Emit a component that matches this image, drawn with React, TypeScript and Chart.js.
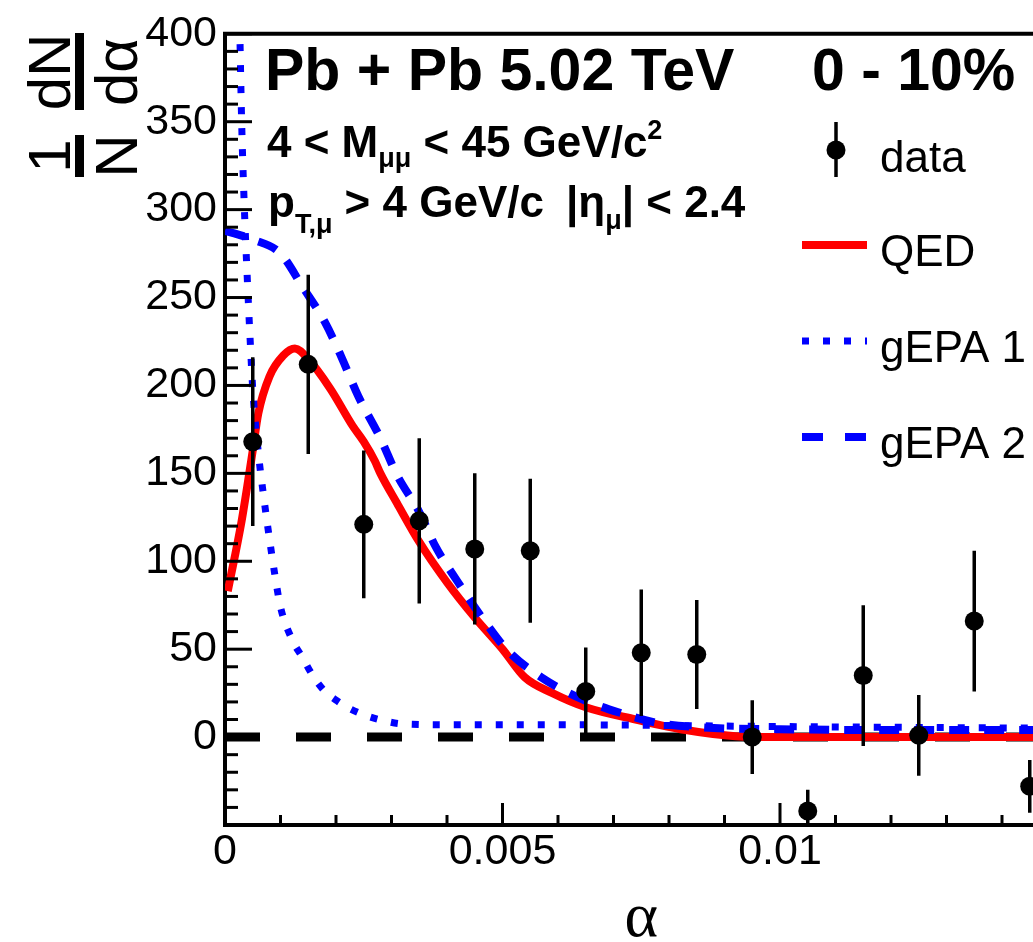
import React, { useEffect, useRef } from 'react';
import { Chart, registerables } from 'chart.js';

Chart.register(...registerables);

// ---------------- data ----------------
const X_MIN = 0;
const X_MAX = 0.015;
const Y_MIN = -50;
const Y_MAX = 400;

const dataX = [0.0005, 0.0015, 0.0025, 0.0035, 0.0045, 0.0055, 0.0065, 0.0075, 0.0085, 0.0095, 0.0105, 0.0115, 0.0125, 0.0135, 0.0145];
const dataY = [168, 212, 121, 123, 107, 106, 26, 48, 47, 0, -42, 35, 1, 66, -28];
const dataErr = [48, 51, 42, 47, 43, 41, 25, 36, 31, 21, 12, 40, 23, 40, 15];

const qedX = [0.00005, 0.0003, 0.0005, 0.0006, 0.0008, 0.00105, 0.00126, 0.0015, 0.0019, 0.0023, 0.0025, 0.0027, 0.0028, 0.0031, 0.0035, 0.004, 0.0045, 0.005, 0.0054, 0.0059, 0.0065, 0.0074, 0.0083, 0.0092, 0.01, 0.012, 0.015];
const qedY = [83, 123, 163, 184, 205, 217, 221, 215, 198, 177, 168, 157, 150, 133, 111, 88, 68, 50, 34, 25, 17, 10, 4, 0.5, 0, 0, 0];

const gepa1X = [0.00025, 0.0003, 0.00035, 0.0004, 0.00045, 0.0005, 0.0006, 0.0007, 0.0008, 0.0009, 0.001, 0.0012, 0.0014, 0.0016, 0.0018, 0.002, 0.0022, 0.0025, 0.0028, 0.0032, 0.004, 0.006, 0.01, 0.015];
const gepa1Y = [430, 350, 300, 262, 228, 198, 162, 136, 113, 92, 74, 56, 45, 34, 26, 21, 17, 12.7, 9.8, 7.5, 7, 7, 6, 5];

const gepa2X = [0, 0.0005, 0.001, 0.0014, 0.0018, 0.0021, 0.0024, 0.0028, 0.0031, 0.0035, 0.0038, 0.0042, 0.0047, 0.0051, 0.0057, 0.0064, 0.0071, 0.0078, 0.0086, 0.01, 0.012, 0.015];
const gepa2Y = [288, 283, 275, 256, 236, 216, 194, 170, 149, 128, 108, 88, 65, 49, 34, 22, 14, 8, 5.5, 4.5, 4, 4];

const zeroX = [0, 0.015];
const zeroY = [0, 0];

const xTickValues = [0, 0.005, 0.01];
const xTickLabels = ['0', '0.005', '0.01'];
const yTickValues = [0, 50, 100, 150, 200, 250, 300, 350, 400];
const yTickLabels = ['0', '50', '100', '150', '200', '250', '300', '350', '400'];
const xMinorStep = 0.001;
const yMinorStep = 10;
const xMajorEvery = 5;
const yMajorEvery = 5;

const seriesLabels = ['data', 'QED', 'gEPA 1', 'gEPA 2'];

// ---------------- styles ----------------
const FONT = '"Liberation Sans", Arial, Helvetica, sans-serif';
const SERIF = '"Liberation Serif", "DejaVu Serif", serif';
const RED = '#ff0000';
const BLUE = '#0000ff';

const pts = (xs: number[], ys: number[]) => xs.map((x, i) => ({ x, y: ys[i] }));

type Seg = { t: string; size: number; dy?: number; x?: number; endX?: number };

function drawSegs(ctx: CanvasRenderingContext2D, segs: Seg[], x0: number, baseline: number) {
  let x = x0;
  for (const s of segs) {
    ctx.font = `bold ${s.size}px ${FONT}`;
    const w = ctx.measureText(s.t).width;
    if (s.x !== undefined) x = s.x;
    if (s.endX !== undefined) x = s.endX - w;
    ctx.fillText(s.t, x, baseline + (s.dy || 0));
    x += w;
  }
}

const decorPlugin = {
  id: 'decor',
  afterDatasetsDraw(chart: any) {
    const { ctx, chartArea: ca, scales } = chart;
    const x = scales.x;
    const y = scales.y;
    ctx.save();
    ctx.beginPath();
    ctx.rect(ca.left, ca.top, ca.right - ca.left, ca.bottom - ca.top);
    ctx.clip();
    ctx.strokeStyle = '#000';
    ctx.lineWidth = 3.5;
    dataX.forEach((xv, i) => {
      const px = x.getPixelForValue(xv);
      ctx.beginPath();
      ctx.moveTo(px, y.getPixelForValue(dataY[i] + dataErr[i]));
      ctx.lineTo(px, y.getPixelForValue(dataY[i] - dataErr[i]));
      ctx.stroke();
    });
    ctx.restore();
  },
  afterDraw(chart: any) {
    const { ctx, chartArea: ca, scales } = chart;
    const x = scales.x;
    const y = scales.y;
    ctx.save();
    ctx.strokeStyle = '#000';
    ctx.fillStyle = '#000';

    // top & right frame
    ctx.lineWidth = 4;
    ctx.beginPath();
    ctx.moveTo(ca.left - 2, ca.top);
    ctx.lineTo(ca.right + 2, ca.top);
    ctx.moveTo(ca.right, ca.top);
    ctx.lineTo(ca.right, ca.bottom);
    ctx.stroke();

    // inside ticks
    ctx.lineWidth = 3;
    const ny = Math.round((Y_MAX - Y_MIN) / yMinorStep);
    for (let k = 0; k <= ny; k++) {
      const v = Y_MIN + k * yMinorStep;
      const major = Math.round(v / yMinorStep) % yMajorEvery === 0;
      const py = y.getPixelForValue(v);
      ctx.beginPath();
      ctx.moveTo(ca.left, py);
      ctx.lineTo(ca.left + (major ? 27 : 13), py);
      ctx.stroke();
    }
    const nx = Math.round((X_MAX - X_MIN) / xMinorStep);
    for (let k = 1; k <= nx; k++) {
      const v = X_MIN + k * xMinorStep;
      const major = k % xMajorEvery === 0;
      const px = x.getPixelForValue(v);
      ctx.beginPath();
      ctx.moveTo(px, ca.bottom);
      ctx.lineTo(px, ca.bottom - (major ? 22 : 10));
      ctx.stroke();
    }

    // y axis title: (1/N) (dN/dα), rotated
    ctx.save();
    ctx.rotate(-Math.PI / 2);
    ctx.font = `60px ${FONT}`;
    ctx.textAlign = 'center';
    ctx.textBaseline = 'alphabetic';
    ctx.fillText('1', -156, 70);
    ctx.fillText('N', -156, 137);
    ctx.fillRect(-177, 75, 42, 9);
    ctx.fillText('dN', -72, 70);
    ctx.fillText('dα', -72, 137);
    ctx.fillRect(-110, 75, 77, 9);
    ctx.restore();

    // header texts
    ctx.textAlign = 'left';
    ctx.textBaseline = 'alphabetic';
    drawSegs(ctx, [{ t: 'Pb + Pb 5.02 TeV', size: 59 }], 265, 90);
    drawSegs(ctx, [{ t: '0 - 10%', size: 59 }], 812, 90);
    drawSegs(ctx, [
      { t: '4 < M', size: 44 },
      { t: 'μμ', size: 27, dy: 10 },
      { t: ' < 45 GeV/c', size: 44 },
      { t: '2', size: 27, dy: -18 },
    ], 267, 157);
    drawSegs(ctx, [
      { t: 'p', size: 44 },
      { t: 'T,μ', size: 27, dy: 16 },
      { t: ' > 4 GeV/c', size: 44 },
      { t: '|η', size: 44, x: 566 },
      { t: 'μ', size: 27, dy: 12 },
      { t: '| < 2.4', size: 44 },
    ], 268, 217);

    // legend
    const rowBase = [172, 266, 362, 458];
    const sx0 = 802;
    const sx1 = 867;
    ctx.lineWidth = 3.5;
    ctx.beginPath();
    ctx.moveTo(836, rowBase[0] - 50);
    ctx.lineTo(836, rowBase[0] + 5);
    ctx.stroke();
    ctx.beginPath();
    ctx.arc(836, rowBase[0] - 22, 9.5, 0, Math.PI * 2);
    ctx.fill();
    const lineStyles = [
      { color: RED, width: 8, dash: [] as number[] },
      { color: BLUE, width: 7, dash: [7, 14] },
      { color: BLUE, width: 8, dash: [21, 22] },
    ];
    lineStyles.forEach((st, i) => {
      const yy = rowBase[i + 1] - 21;
      ctx.strokeStyle = st.color;
      ctx.lineWidth = st.width;
      ctx.setLineDash(st.dash);
      ctx.beginPath();
      ctx.moveTo(sx0, yy);
      ctx.lineTo(sx1, yy);
      ctx.stroke();
    });
    ctx.setLineDash([]);
    ctx.fillStyle = '#000';
    ctx.font = `44px ${FONT}`;
    seriesLabels.forEach((lab, i) => {
      ctx.fillText(lab, 880, rowBase[i]);
    });
    ctx.restore();
  },
};

export default function App() {
  const ref = useRef<HTMLCanvasElement | null>(null);

  useEffect(() => {
    if (!ref.current) return;
    const chart = new Chart(ref.current, {
      type: 'scatter',
      data: {
        datasets: [
          {
            label: seriesLabels[0],
            data: pts(dataX, dataY),
            showLine: false,
            pointRadius: 9.5,
            pointBorderWidth: 0,
            pointBackgroundColor: '#000',
            backgroundColor: '#000',
            order: 0,
            clip: false,
          } as any,
          {
            label: seriesLabels[3],
            data: pts(gepa2X, gepa2Y),
            showLine: true,
            borderColor: BLUE,
            borderWidth: 8,
            borderDash: [20, 15],
            pointRadius: 0,
            cubicInterpolationMode: 'monotone',
            order: 1,
            clip: 0,
          },
          {
            label: seriesLabels[2],
            data: pts(gepa1X, gepa1Y),
            showLine: true,
            borderColor: BLUE,
            borderWidth: 7,
            borderDash: [7, 14],
            pointRadius: 0,
            cubicInterpolationMode: 'monotone',
            order: 2,
            clip: 0,
          },
          {
            label: seriesLabels[1],
            data: pts(qedX, qedY),
            showLine: true,
            borderColor: RED,
            borderWidth: 8,
            pointRadius: 0,
            cubicInterpolationMode: 'monotone',
            order: 3,
            clip: 0,
          },
          {
            label: '',
            data: pts(zeroX, zeroY),
            showLine: true,
            borderColor: '#000',
            borderWidth: 9,
            borderDash: [35, 36],
            pointRadius: 0,
            order: 4,
            clip: 0,
          },
        ] as any,
      },
      options: {
        animation: false,
        responsive: false,
        devicePixelRatio: 1,
        events: [],
        layout: { padding: { left: 0, right: 42.5, top: 33, bottom: 0 } },
        plugins: { legend: { display: false }, tooltip: { enabled: false } },
        scales: {
          x: {
            type: 'linear',
            min: X_MIN,
            max: X_MAX,
            grid: { display: false, drawTicks: false },
            border: { display: true, color: '#000', width: 4 },
            afterBuildTicks: (s: any) => {
              s.ticks = xTickValues.map((v) => ({ value: v }));
            },
            afterFit: (s: any) => {
              s.height = 117;
            },
            ticks: {
              color: '#000',
              padding: 1,
              maxRotation: 0,
              autoSkip: false,
              font: { family: FONT, size: 43, lineHeight: 1.2 },
              callback: (v: any) => {
                const i = xTickValues.findIndex((t) => Math.abs(t - Number(v)) < 1e-9);
                return i >= 0 ? xTickLabels[i] : '';
              },
            },
            title: {
              display: true,
              text: 'α',
              color: '#000',
              padding: 0,
              font: { family: SERIF, size: 64, lineHeight: 0.72 },
            },
          },
          y: {
            type: 'linear',
            min: Y_MIN,
            max: Y_MAX,
            grid: { display: false, drawTicks: false },
            border: { display: true, color: '#000', width: 4 },
            afterBuildTicks: (s: any) => {
              s.ticks = yTickValues.map((v) => ({ value: v }));
            },
            afterFit: (s: any) => {
              s.width = 225;
            },
            ticks: {
              color: '#000',
              padding: 8,
              autoSkip: false,
              font: { family: FONT, size: 43, lineHeight: 1.2 },
              callback: (v: any) => {
                const i = yTickValues.findIndex((t) => Math.abs(t - Number(v)) < 1e-9);
                return i >= 0 ? yTickLabels[i] : '';
              },
            },
          },
        },
      } as any,
      plugins: [decorPlugin],
    });
    return () => chart.destroy();
  }, []);

  return (
    <div
      style={{
        position: 'absolute',
        left: 0,
        top: 0,
        width: 1033,
        height: 942,
        overflow: 'hidden',
        background: '#fff',
      }}
    >
      <canvas ref={ref} width={1100} height={942} style={{ display: 'block', width: 1100, height: 942 }} />
    </div>
  );
}
